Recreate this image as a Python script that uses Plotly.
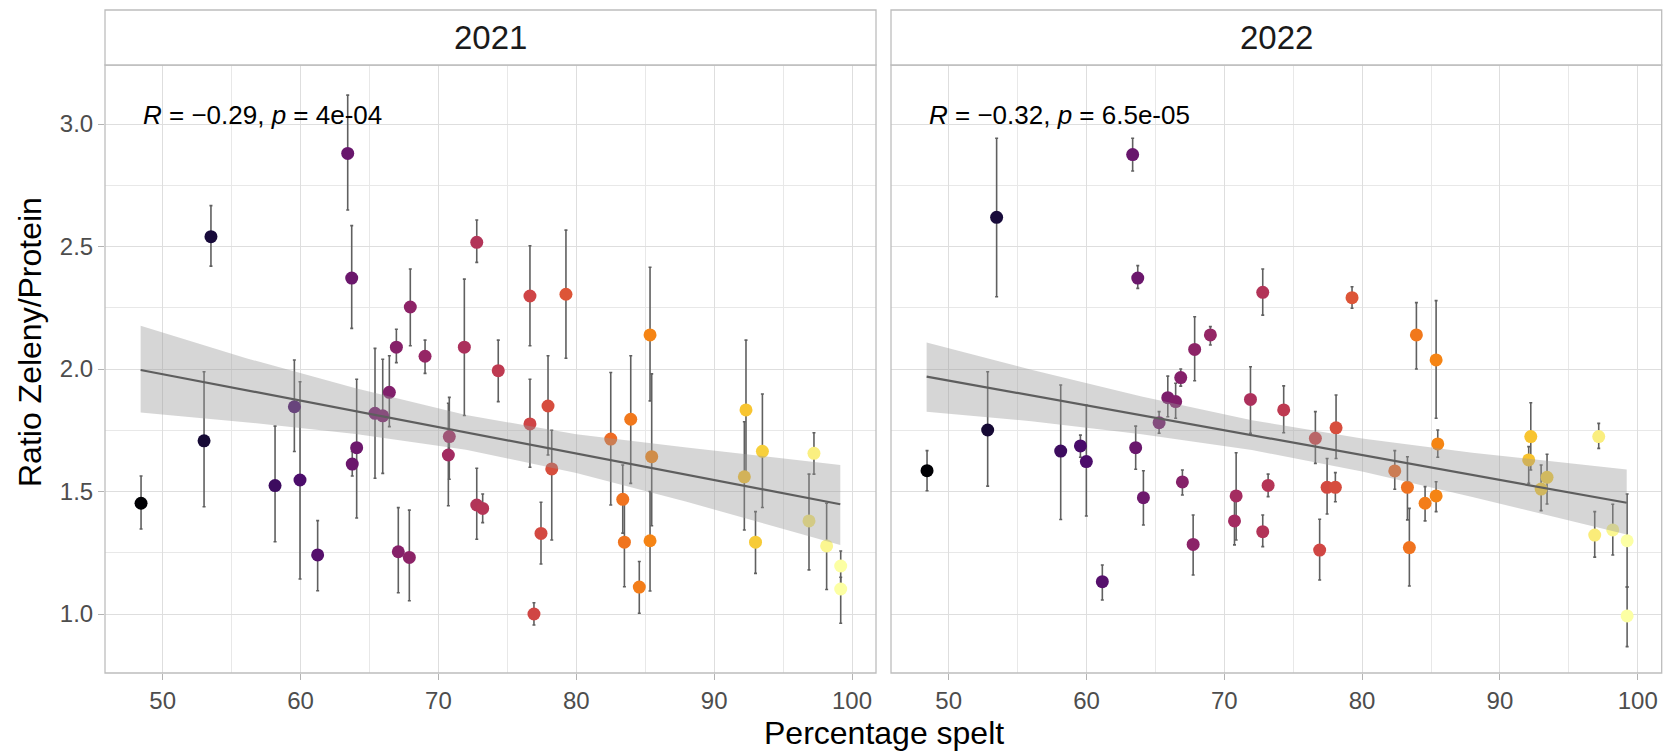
import plotly.graph_objects as go

# ---------------- data: 2021 ----------------
x21 = [48.43, 53.0, 53.5, 58.15, 59.55, 59.96, 61.24, 63.42, 63.71, 63.75,
       64.07, 65.4, 65.96, 66.44, 66.95, 67.09, 67.89, 67.96, 69.03, 70.72,
       70.79, 71.88, 72.78, 72.78, 73.21, 74.34, 76.64, 76.64, 76.93, 77.44,
       77.95, 78.22, 79.25, 82.5, 83.37, 83.49, 83.95, 84.57, 85.35, 85.35,
       85.47, 92.19, 92.31, 93.0, 93.5, 96.88, 97.24, 98.16, 99.18, 99.18]
y21 = [1.452, 1.707, 2.54, 1.524, 1.846, 1.547, 1.241, 2.88, 2.371, 1.612,
       1.679, 1.819, 1.809, 1.905, 2.089, 1.254, 1.231, 2.253, 2.052, 1.649,
       1.724, 2.089, 2.517, 1.445, 1.431, 1.993, 2.298, 1.776, 1.0, 1.329,
       1.849, 1.592, 2.305, 1.714, 1.468, 1.293, 1.795, 1.110, 2.139, 1.299,
       1.642, 1.56, 1.833, 1.293, 1.664, 1.38, 1.656, 1.278, 1.196, 1.102]
lo21 = [1.347, 1.438, 2.42, 1.295, 1.663, 1.143, 1.095, 2.649, 2.166, 1.563,
        1.392, 1.554, 1.574, 1.765, 2.026, 1.087, 1.054, 2.095, 1.982, 1.442,
        1.55, 1.81, 2.435, 1.305, 1.373, 1.867, 2.095, 1.599, 0.955, 1.204,
        1.649, 1.302, 2.044, 1.445, 1.33, 1.111, 1.533, 1.003, 1.87, 1.094,
        1.36, 1.343, 1.57, 1.166, 1.435, 1.18, 1.571, 1.10, 1.12, 0.962]
hi21 = [1.563, 1.989, 2.667, 1.767, 2.037, 1.948, 1.381, 3.118, 2.585, 1.663,
        1.958, 2.084, 2.04, 2.054, 2.162, 1.434, 1.424, 2.408, 2.118, 1.86,
        1.884, 2.367, 2.608, 1.595, 1.49, 2.118, 2.503, 1.958, 1.046, 1.456,
        2.054, 1.75, 2.567, 1.986, 1.608, 1.453, 2.054, 1.214, 2.415, 1.50,
        1.98, 1.785, 2.118, 1.418, 1.898, 1.571, 1.74, 1.452, 1.257, 1.15]

# ---------------- data: 2022 ----------------
x22 = [48.43, 52.83, 53.48, 58.13, 59.56, 59.99, 61.15, 63.35, 63.57, 63.72,
       64.13, 65.27, 65.9, 66.47, 66.84, 66.96, 67.74, 67.85, 68.99, 70.74,
       70.86, 71.9, 72.79, 72.79, 73.18, 74.31, 76.61, 76.92, 77.46, 78.06,
       78.11, 79.27, 82.37, 83.29, 83.43, 83.94, 84.57, 85.37, 85.37, 85.49,
       92.09, 92.24, 92.99, 93.42, 96.88, 97.17, 98.19, 99.23, 99.23]
y22 = [1.585, 1.751, 2.619, 1.665, 1.686, 1.622, 1.132, 2.875, 1.679, 2.371,
       1.475, 1.781, 1.883, 1.867, 1.965, 1.539, 1.284, 2.08, 2.139, 1.38,
       1.482, 1.876, 2.313, 1.336, 1.525, 1.833, 1.717, 1.261, 1.517, 1.517,
       1.76, 2.291, 1.584, 1.517, 1.271, 2.139, 1.452, 2.037, 1.482, 1.694,
       1.629, 1.724, 1.51, 1.558, 1.322, 1.724, 1.343, 1.299, 0.992]
lo22 = [1.503, 1.522, 2.295, 1.386, 1.64, 1.40, 1.057, 2.808, 1.591, 2.329,
        1.363, 1.738, 1.805, 1.799, 1.93, 1.486, 1.159, 1.952, 2.098, 1.282,
        1.302, 1.738, 2.22, 1.275, 1.479, 1.74, 1.615, 1.139, 1.408, 1.458,
        1.635, 2.248, 1.509, 1.384, 1.114, 2.0, 1.38, 1.799, 1.418, 1.64,
        1.533, 1.588, 1.422, 1.449, 1.232, 1.676, 1.241, 1.11, 0.867]
hi22 = [1.667, 1.989, 2.942, 1.935, 1.73, 1.853, 1.2, 2.942, 1.767, 2.422,
        1.585, 1.826, 1.971, 1.942, 2.0, 1.588, 1.404, 2.213, 2.173, 1.465,
        1.658, 2.009, 2.408, 1.404, 1.571, 1.931, 1.826, 1.387, 1.635, 1.577,
        1.894, 2.336, 1.667, 1.642, 1.431, 2.271, 1.52, 2.279, 1.54, 1.751,
        1.683, 1.862, 1.608, 1.652, 1.418, 1.778, 1.448, 1.49, 1.11]

# ---------------- smooth (linear fit + 95% band) ----------------
fit21_x = [48.4, 99.15]
fit21_y = [1.996, 1.448]
band21_x = [48.4, 56, 64, 72, 80, 88, 99.15]
band21_lo = [1.822, 1.783, 1.735, 1.670, 1.576, 1.458, 1.282]
band21_hi = [2.177, 2.045, 1.921, 1.812, 1.734, 1.680, 1.608]

fit22_x = [48.4, 99.2]
fit22_y = [1.969, 1.454]
band22_x = [48.4, 56, 64, 72, 80, 88, 99.2]
band22_lo = [1.826, 1.787, 1.734, 1.669, 1.582, 1.478, 1.325]
band22_hi = [2.108, 1.997, 1.888, 1.791, 1.716, 1.658, 1.590]

panel_titles = ["2021", "2022"]
stat_labels = ["<i>R</i> = \u22120.29, <i>p</i> = 4e-04",
               "<i>R</i> = \u22120.32, <i>p</i> = 6.5e-05"]
x_ticks = [50, 60, 70, 80, 90, 100]
y_ticks = [1.0, 1.5, 2.0, 2.5, 3.0]

FONT = "Liberation Sans, Arial, sans-serif"
cmin = min(x21 + x22)
cmax = max(x21 + x22)

fig = go.Figure()

panels = [
    (x21, y21, lo21, hi21, fit21_x, fit21_y, band21_x, band21_lo, band21_hi, "x", "y"),
    (x22, y22, lo22, hi22, fit22_x, fit22_y, band22_x, band22_lo, band22_hi, "x2", "y2"),
]

for (xs, ys, lo, hi, fx, fy, bx, blo, bhi, xa, ya) in panels:
    fig.add_trace(go.Scatter(
        x=xs, y=ys, mode="markers", xaxis=xa, yaxis=ya, showlegend=False,
        marker=dict(size=13, color=xs, colorscale="Inferno", cmin=cmin, cmax=cmax,
                    line=dict(width=0)),
        error_y=dict(type="data", symmetric=False,
                     array=[h - v for h, v in zip(hi, ys)],
                     arrayminus=[v - l for v, l in zip(ys, lo)],
                     color="#606060", thickness=1.6, width=1.5),
    ))
    fig.add_trace(go.Scatter(
        x=bx + bx[::-1], y=bhi + blo[::-1], mode="lines", fill="toself",
        fillcolor="rgba(153,153,153,0.4)", line=dict(width=0),
        xaxis=xa, yaxis=ya, showlegend=False, hoverinfo="skip",
    ))
    fig.add_trace(go.Scatter(
        x=fx, y=fy, mode="lines", line=dict(color="#5e5e5e", width=2.2),
        xaxis=xa, yaxis=ya, showlegend=False,
    ))

W, H = 1670, 754
xdom1 = [105 / W, 876 / W]
xdom2 = [891 / W, 1661.7 / W]
ydom = [1 - 673 / H, 1 - 65 / H]
xr = [45.815, 101.74]
yr = [0.7592, 3.2408]

axis_common = dict(
    showgrid=True, gridcolor="#dedede", gridwidth=1.2, zeroline=False,
    showline=False, ticklen=6, tickcolor="#b3b3b3", tickwidth=1,
    tickfont=dict(family=FONT, size=24, color="#4d4d4d"),
)
minor_x = dict(dtick=5, tick0=0, showgrid=True, gridcolor="#e8e8e8", gridwidth=1, ticks="")
minor_y = dict(dtick=0.25, tick0=0, showgrid=True, gridcolor="#e8e8e8", gridwidth=1, ticks="")

fig.update_layout(
    width=W, height=H, margin=dict(l=0, r=0, t=0, b=0),
    paper_bgcolor="white", plot_bgcolor="white",
    xaxis=dict(domain=xdom1, range=xr, anchor="y", tickvals=x_ticks, ticks="outside",
               minor=minor_x, **axis_common),
    xaxis2=dict(domain=xdom2, range=xr, anchor="y2", tickvals=x_ticks, ticks="outside",
                minor=minor_x, **axis_common),
    yaxis=dict(domain=ydom, range=yr, anchor="x", tickvals=y_ticks, tickformat=".1f",
               ticks="outside", minor=minor_y, **axis_common),
    yaxis2=dict(domain=ydom, range=yr, anchor="x2", tickvals=y_ticks, showticklabels=False,
                ticks="", minor=minor_y, **axis_common),
)

strip_top = 1 + 55 / 608
shapes = []
annotations = []
for i, (xa, ya) in enumerate([("x", "y"), ("x2", "y2")]):
    shapes.append(dict(type="rect", xref=f"{xa} domain", yref=f"{ya} domain",
                       x0=0, x1=1, y0=0, y1=1, line=dict(color="#bdbdbd", width=1.3),
                       fillcolor="rgba(0,0,0,0)", layer="above"))
    shapes.append(dict(type="rect", xref=f"{xa} domain", yref=f"{ya} domain",
                       x0=0, x1=1, y0=1, y1=strip_top, line=dict(color="#bdbdbd", width=1.3),
                       fillcolor="white", layer="above"))
    annotations.append(dict(text=panel_titles[i], xref=f"{xa} domain", yref=f"{ya} domain",
                            x=0.5, y=(1 + strip_top) / 2, showarrow=False,
                            xanchor="center", yanchor="middle",
                            font=dict(family=FONT, size=33, color="#1a1a1a")))
    annotations.append(dict(text=stat_labels[i], xref=xa, yref=ya,
                            x=48.43, y=3.037, showarrow=False,
                            xanchor="left", yanchor="middle",
                            font=dict(family=FONT, size=26, color="black")))

annotations.append(dict(text="Percentage spelt", xref="paper", yref="paper",
                        x=883.5 / W, y=1 - 733 / H, showarrow=False,
                        xanchor="center", yanchor="middle",
                        font=dict(family=FONT, size=32, color="black")))
annotations.append(dict(text="Ratio Zeleny/Protein", xref="paper", yref="paper",
                        x=30 / W, y=1 - 342 / H, showarrow=False, textangle=-90,
                        xanchor="center", yanchor="middle",
                        font=dict(family=FONT, size=32, color="black")))

fig.update_layout(shapes=shapes, annotations=annotations)

fig.write_html("out.html", post_script="document.body.style.margin='0';")
